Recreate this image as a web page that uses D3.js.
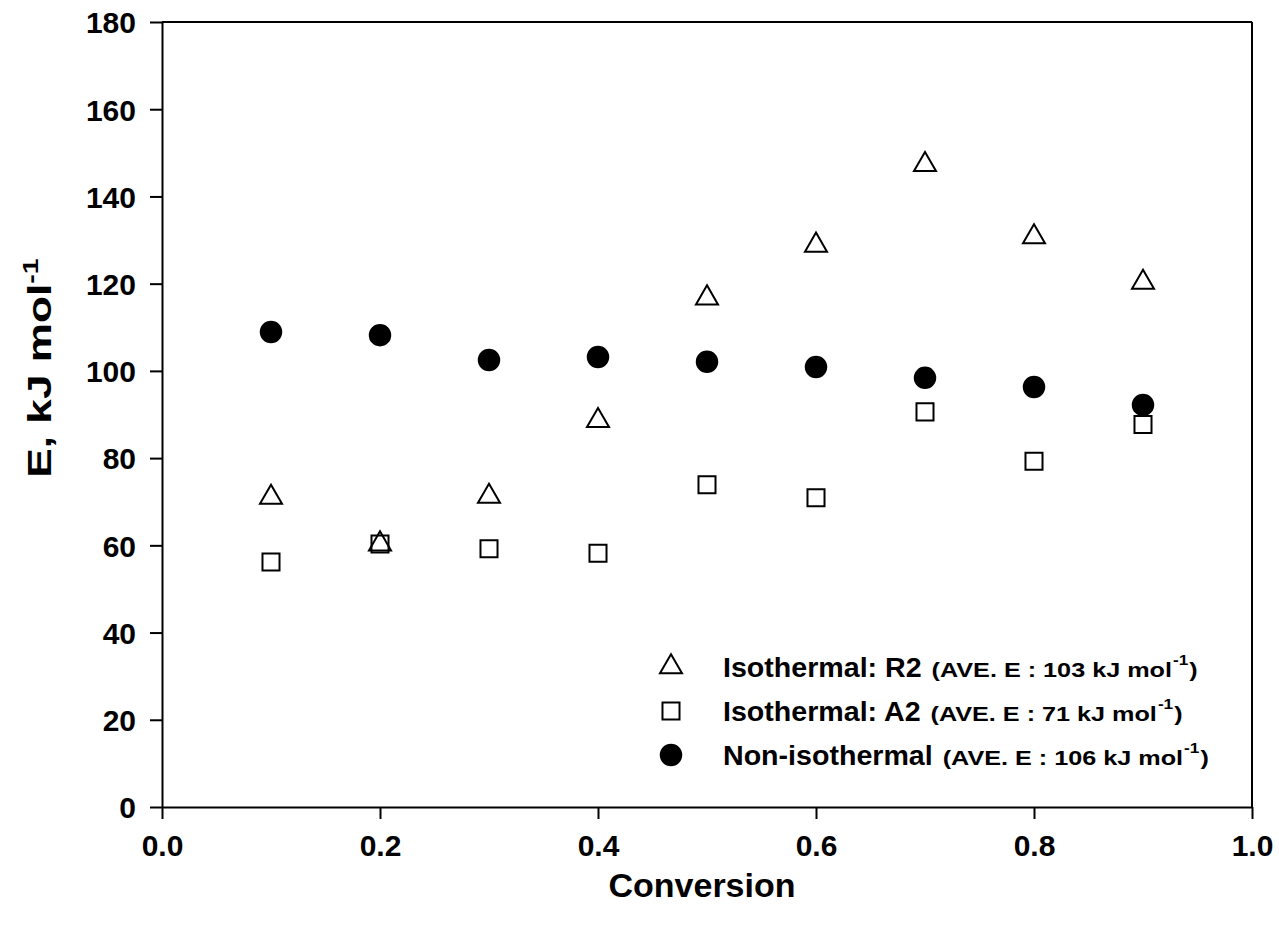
<!DOCTYPE html>
<html>
<head>
<meta charset="utf-8">
<title>Activation energy vs conversion</title>
<style>
  body { margin: 0; background: #fff; }
  svg text { font-family: "Liberation Sans", Arial, sans-serif; font-weight: bold; fill: #000; }
</style>
<script src="https://d3js.org/d3.v7.min.js"></script>
</head>
<body>
<script>
// conversion values
var conversion = [0.1, 0.2, 0.3, 0.4, 0.5, 0.6, 0.7, 0.8, 0.9];
// E (kJ/mol)
var isoR2 = [71, 60.3, 71.2, 88.6, 116.7, 128.8, 147.3, 130.7, 120.3];
var isoA2 = [56.2, 60.3, 59.2, 58.2, 73.9, 70.9, 90.6, 79.3, 87.7];
var nonIso = [108.9, 108.2, 102.5, 103.2, 102.1, 100.9, 98.4, 96.3, 92.2];

var xTicks = [0.0, 0.2, 0.4, 0.6, 0.8, 1.0];
var yTicks = [0, 20, 40, 60, 80, 100, 120, 140, 160, 180];

var seriesNames = ["Isothermal: R2", "Isothermal: A2", "Non-isothermal"];
var seriesAve = ["103", "71", "106"];

var width = 1279, height = 936;
var margin = {left: 162, right: 27, top: 22, bottom: 129};

var svg = d3.select("body").append("svg")
    .attr("width", width).attr("height", height);

var x = d3.scaleLinear().domain([0, 1]).range([margin.left, width - margin.right]);
var y = d3.scaleLinear().domain([0, 180]).range([height - margin.bottom, margin.top]);

// frame (top & right)
svg.append("line").attr("x1", x(0)).attr("x2", x(1)).attr("y1", y(180)).attr("y2", y(180))
    .attr("stroke", "#000").attr("stroke-width", 2);
svg.append("line").attr("x1", x(1)).attr("x2", x(1)).attr("y1", y(0)).attr("y2", y(180))
    .attr("stroke", "#000").attr("stroke-width", 2);

var xAxis = svg.append("g")
    .attr("transform", "translate(0," + y(0) + ")")
    .call(d3.axisBottom(x).tickValues(xTicks).tickFormat(d3.format(".1f")).tickSizeInner(12).tickSizeOuter(0).tickPadding(16));
var yAxis = svg.append("g")
    .attr("transform", "translate(" + x(0) + ",0)")
    .call(d3.axisLeft(y).tickValues(yTicks).tickFormat(d3.format("d")).tickSizeInner(12).tickSizeOuter(0).tickPadding(14));

[xAxis, yAxis].forEach(function(a) {
  a.selectAll("path, line").attr("stroke", "#000").attr("stroke-width", 2);
  a.selectAll(".tick text").attr("font-size", 30).attr("fill", "#000");
});
yAxis.selectAll(".tick text").attr("dy", "0.36em");

// axis titles
svg.append("text")
    .attr("x", (x(0) + x(1)) / 2 - 5).attr("y", 897)
    .attr("text-anchor", "middle").attr("font-size", 34)
    .text("Conversion");

var yt = svg.append("text")
    .attr("transform", "translate(51,368) rotate(-90) scale(1.3,1)")
    .attr("text-anchor", "middle").attr("font-size", 34);
yt.append("tspan").text("E, kJ mol");
yt.append("tspan").attr("dy", -13).attr("font-size", 22).text("-1");

// markers
var triangle = d3.symbol().type(d3.symbolTriangle).size(210);
var square = d3.symbol().type(d3.symbolSquare).size(290);
var circle = d3.symbol().type(d3.symbolCircle).size(330);

var plot = svg.append("g");
var series = [
  {vals: isoR2, sym: triangle, fill: "none"},
  {vals: isoA2, sym: square, fill: "none"},
  {vals: nonIso, sym: circle, fill: "#000"}
];

series.forEach(function(s) {
  plot.selectAll(null)
    .data(conversion)
    .enter().append("path")
      .attr("d", s.sym)
      .attr("transform", function(d, i) { return "translate(" + x(d) + "," + y(s.vals[i]) + ")"; })
      .attr("fill", s.fill)
      .attr("stroke", "#000")
      .attr("stroke-width", 2);
});

// legend: pieces laid out one after another, each a little widened like the original
var legend = svg.append("g");
var rowY = [667, 711, 755];
function piece(g, cx, cy, str, size, sx) {
  var t = g.append("text")
    .attr("transform", "translate(" + cx + "," + cy + ") scale(" + sx + ",1)")
    .attr("font-size", size).text(str);
  return cx + t.node().getComputedTextLength() * sx;
}
series.forEach(function(s, i) {
  legend.append("path")
    .attr("d", s.sym)
    .attr("transform", "translate(671," + rowY[i] + ")")
    .attr("fill", s.fill).attr("stroke", "#000").attr("stroke-width", 2);
  var by = rowY[i] + 10;
  var cx = piece(legend, 723, by, seriesNames[i], 27.5, 1.04);
  cx = piece(legend, cx + 10, by, "(AVE. E : " + seriesAve[i] + " kJ mol", 21, 1.2);
  cx = piece(legend, cx + 1, by - 12, "-1", 15, 1.15);
  piece(legend, cx + 1, by, ")", 21, 1.2);
});
</script>
</body>
</html>
